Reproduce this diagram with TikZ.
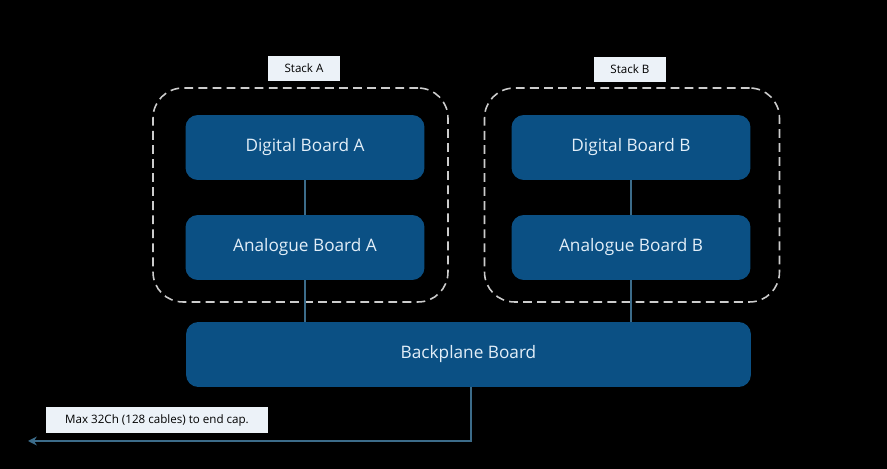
\documentclass[tikz,border=0pt]{standalone}
\usepackage{fontspec}
\setmainfont{Open Sans}
\usepackage{xcolor}
\usetikzlibrary{arrows.meta, positioning}

\definecolor{boardblue}{RGB}{11,80,132}
\definecolor{boardtext}{RGB}{226,238,248}
\definecolor{wire}{RGB}{60,108,138}
\definecolor{tagfill}{RGB}{236,242,248}

\begin{document}
\begin{tikzpicture}[
    x=0.02cm, y=-0.02cm,
    board/.style={rectangle, rounded corners=7pt, draw=none,
                  fill=boardblue, text=boardtext, font=\fontsize{9.8}{11}\selectfont,
                  minimum width=4.78cm, minimum height=1.3cm, text centered},
    stackbox/.style={rectangle, rounded corners=17pt, draw=white!80!black,
                     dashed, dash pattern=on 5pt off 3pt, line width=0.9pt,
                     minimum width=5.9cm, minimum height=4.28cm},
    tag/.style={rectangle, fill=tagfill, text=black,
                font=\fontsize{6.6}{8}\selectfont, inner sep=0pt,
                minimum height=0.5cm},
    link/.style={wire, line width=1pt},
    arr/.style={-{Stealth[length=5pt, width=5pt]}, wire, line width=1pt}
  ]

  \fill[black] (0,0) rectangle (887,469);
  \useasboundingbox (0,0) rectangle (887,469);

  \node[stackbox] (stackA) at (300.5,195) {};
  \node[stackbox] (stackB) at (632,195) {};
  \node[tag, minimum width=1.44cm] (tagA) at (304,68.5) {Stack A};
  \node[tag, minimum width=1.44cm] (tagB) at (630,69.5) {Stack B};

  \node[board] (digA) at (305,147.5) {Digital Board A};
  \node[board] (anaA) at (305,247.5) {Analogue Board A};
  \node[board] (digB) at (631,147.5) {Digital Board B};
  \node[board] (anaB) at (631,247.5) {Analogue Board B};
  \node[board, minimum width=11.3cm] (back) at (468.5,354.5) {Backplane Board};

  \foreach \a/\b in {digA/anaA, digB/anaB}
    \draw[link] (\a) -- (\b);
  \draw[link] (anaA.south) -- (anaA.south |- back.north);
  \draw[link] (anaB.south) -- (anaB.south |- back.north);

  \node[tag, minimum width=4.44cm, minimum height=0.52cm] (note) at (157,420)
    {Max 32Ch (128 cables) to end cap.};
  \coordinate (endcap) at (28,441);
  \draw[arr] (back.south -| 471,0) |- (endcap);

\end{tikzpicture}
\end{document}
